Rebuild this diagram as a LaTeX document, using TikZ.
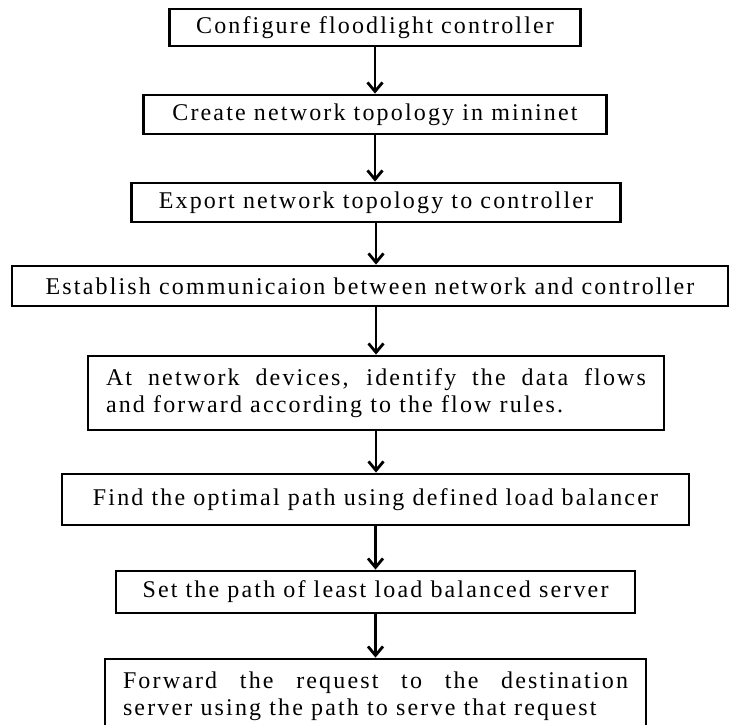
\documentclass[tikz,border=0pt]{standalone}
\usepackage{fontspec}
\setmainfont{Liberation Serif}[LetterSpace=9]
\usepackage{tikz}
\usetikzlibrary{arrows.meta}

\begin{document}
\begin{tikzpicture}[x=1pt, y=-1pt,
  stepbox/.style = {draw=black, line width=2.8pt, inner sep=0pt, align=center, font=\fontsize{24}{27}\selectfont},
  parabox/.style = {stepbox, text width=#1, align=justify, inner xsep=18pt, minimum height=74},
  arr/.style     = {-{Straight Barb[length=9pt,width=15pt]}, line width=2.8pt},
]
\useasboundingbox (0,0) rectangle (729,725);
%%--- steps, top to bottom ---
\node[stepbox, minimum width=411, minimum height=37] (conf)  at (375,27.5)  {Configure floodlight controller};
\node[stepbox, minimum width=463, minimum height=39] (topo)  at (375,114.5) {Create network topology in mininet};
\node[stepbox, minimum width=489, minimum height=39] (expo)  at (376,202.5) {Export network topology to controller};
\node[stepbox, minimum width=716, minimum height=40] (comm)  at (370,286)   {Establish communicaion between network and controller};
\node[parabox=540pt]                                 (flows) at (376,393)   {At network devices, identify the data flows\linebreak and forward according to the flow rules.};
\node[stepbox, minimum width=627, minimum height=51] (path)  at (375.5,499.5) {Find the optimal path using defined load balancer};
\node[stepbox, minimum width=519, minimum height=42] (least) at (375.5,592) {Set the path of least load balanced server};
\node[parabox=505pt]                                 (fwd)   at (375.5,696) {Forward the request to the destination\linebreak server using the path to serve that request};
%%--- arrows ---
\draw[arr] (conf.south)  -- (conf.south |- topo.north);
\draw[arr] (topo.south)  -- (topo.south |- expo.north);
\draw[arr] (expo.south)  -- (expo.south |- comm.north);
\draw[arr] (expo.south |- comm.south) -- (expo.south |- flows.north);
\draw[arr] (flows.south) -- (flows.south |- path.north);
\draw[arr] (path.south)  -- (path.south |- least.north);
\draw[arr] (least.south) -- (least.south |- fwd.north);
\end{tikzpicture}
\end{document}
